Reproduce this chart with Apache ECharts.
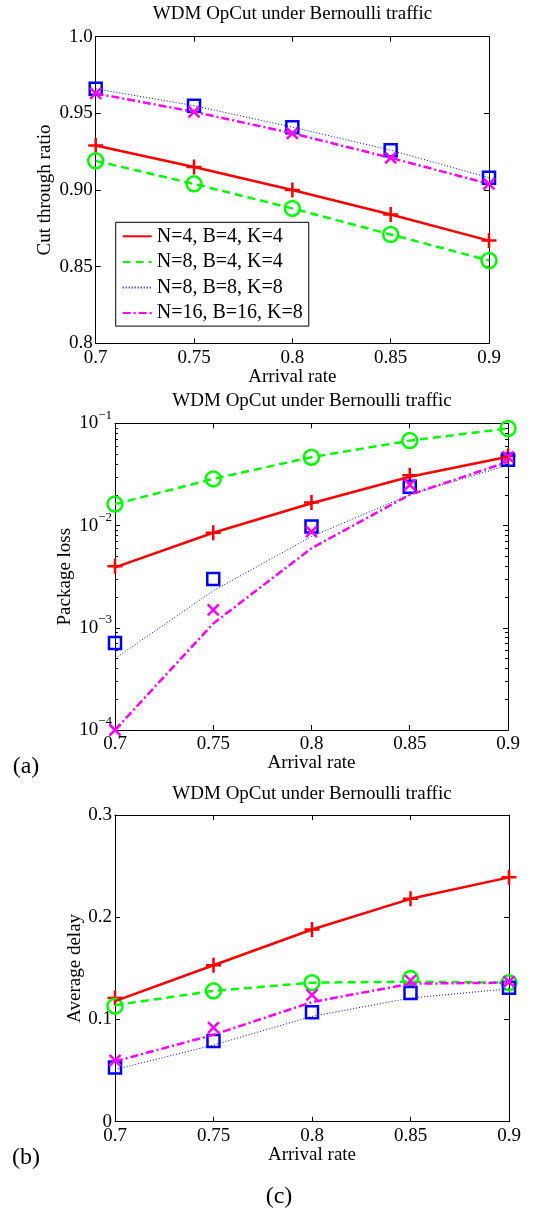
<!DOCTYPE html>
<html><head><meta charset="utf-8">
<script src="https://cdn.jsdelivr.net/npm/echarts@6/dist/echarts.min.js"></script>
<style>html,body{margin:0;padding:0;background:#fff}#c{width:550px;height:1214px}</style>
</head><body><div id="c"></div>
<script>
// ---------- data ----------
const arrivalRates = [0.7, 0.75, 0.8, 0.85, 0.9];
const xTickLabels = ['0.7', '0.75', '0.8', '0.85', '0.9'];
const seriesNames = ['N=4, B=4, K=4', 'N=8, B=4, K=4', 'N=8, B=8, K=8', 'N=16, B=16, K=8'];

// top panel: cut through ratio
const cutTicks = [0.8, 0.85, 0.9, 0.95, 1.0];
const cutTickLabels = ['0.8', '0.85', '0.90', '0.95', '1.0'];
const cutN4B4K4 = [0.929, 0.915, 0.900, 0.884, 0.867];
const cutN8B4K4 = [0.919, 0.904, 0.888, 0.871, 0.854];
const cutN8B8K8 = [0.966, 0.955, 0.941, 0.926, 0.908];
const cutN16B16K8 = [0.963, 0.951, 0.937, 0.921, 0.904];

// panel (a): package loss (markers = simulation, lines = analysis)
const lossTicks = [1e-4, 1e-3, 1e-2, 1e-1];
const lossTickExps = ['\u22124', '\u22123', '\u22122', '\u22121'];
const lossSimN4B4K4 = [0.0040, 0.0085, 0.0168, 0.031, 0.048];
const lossSimN8B4K4 = [0.0162, 0.0286, 0.0466, 0.0677, 0.089];
const lossSimN8B8K8 = [0.00071, 0.0030, 0.0098, 0.024, 0.044];
const lossSimN16B16K8 = [0.0001, 0.0015, 0.0087, 0.025, 0.047];
const lossAnaN4B4K4 = [0.0039, 0.0085, 0.0165, 0.030, 0.047];
const lossAnaN8B4K4 = [0.0162, 0.0286, 0.0466, 0.0677, 0.089];
const lossAnaN8B8K8 = [0.00050, 0.0023, 0.0078, 0.020, 0.039];
const lossAnaN16B16K8 = [0.0001, 0.0011, 0.0060, 0.020, 0.042];

// panel (b): average delay
const delayTicks = [0, 0.1, 0.2, 0.3];
const delayTickLabels = ['0', '0.1', '0.2', '0.3'];
const delaySimN4B4K4 = [0.121, 0.153, 0.188, 0.218, 0.239];
const delaySimN8B4K4 = [0.113, 0.128, 0.136, 0.140, 0.136];
const delaySimN8B8K8 = [0.053, 0.079, 0.107, 0.126, 0.131];
const delaySimN16B16K8 = [0.060, 0.092, 0.124, 0.138, 0.137];
const delayAnaN4B4K4 = [0.118, 0.153, 0.188, 0.218, 0.239];
const delayAnaN8B4K4 = [0.114, 0.128, 0.136, 0.137, 0.136];
const delayAnaN8B8K8 = [0.051, 0.075, 0.103, 0.121, 0.130];
const delayAnaN16B16K8 = [0.059, 0.085, 0.117, 0.135, 0.136];

// ---------- styles ----------
const FONT = 'Liberation Serif';
const BLACK = '#000';
const FS = 19;
const styles = [
  {color: '#ff0000', width: 2.5, type: 'solid', symbol: 'path://M0,5L10,5M5,0L5,10', size: 15},
  {color: '#00ff00', width: 2.5, type: [8, 5], symbol: 'circle', size: 15},
  {color: '#0000ff', width: 1, type: [1, 2], symbol: 'rect', size: 12},
  {color: '#ff00ff', width: 2.5, type: [8, 3, 2, 3], symbol: 'path://M0,0L10,10M0,10L10,0', size: 11}
];

const grids = [
  {left: 95.7, top: 36.7, width: 393.3, height: 306.6, outerBoundsMode: 'none'},
  {left: 115, top: 423.3, width: 393, height: 306.7, outerBoundsMode: 'none'},
  {left: 115, top: 815, width: 394, height: 306.7, outerBoundsMode: 'none'}
];

function lookup(ticks, labels) {
  return function (v) {
    for (let i = 0; i < ticks.length; i++) if (Math.abs(v - ticks[i]) < 1e-9) return labels[i];
    return '';
  };
}
const txt = {fontFamily: FONT, fontSize: FS, color: BLACK};

function xBottom(gi) {
  return {
    gridIndex: gi, type: 'value', position: 'bottom', min: 0.7, max: 0.9, interval: 0.05,
    axisLine: {onZero: false, lineStyle: {color: BLACK, width: 1}},
    axisTick: {inside: true, length: 5, lineStyle: {color: BLACK}},
    axisLabel: Object.assign({margin: 5, showMinLabel: true, showMaxLabel: true,
      formatter: lookup(arrivalRates, xTickLabels)}, txt),
    splitLine: {show: false},
    name: 'Arrival rate', nameLocation: 'middle', nameGap: 24, nameTextStyle: txt,
    nameMoveOverlap: false
  };
}
function xTop(gi) {
  return {
    gridIndex: gi, type: 'value', position: 'top', min: 0.7, max: 0.9, interval: 0.05,
    axisLine: {onZero: false, lineStyle: {color: BLACK, width: 1}},
    axisTick: {inside: true, length: 5, lineStyle: {color: BLACK}},
    axisLabel: {show: false}, splitLine: {show: false}
  };
}
function yLinear(gi, pos, min, max, interval, ticks, labels, name, nameGap) {
  const a = {
    gridIndex: gi, type: 'value', position: pos, min: min, max: max, interval: interval,
    axisLine: {onZero: false, lineStyle: {color: BLACK, width: 1}},
    axisTick: {inside: true, length: 5, lineStyle: {color: BLACK}},
    splitLine: {show: false}
  };
  if (pos === 'left') {
    a.axisLabel = Object.assign({margin: 3, showMinLabel: true, showMaxLabel: true,
      formatter: lookup(ticks, labels)}, txt);
    a.name = name; a.nameLocation = 'middle'; a.nameGap = nameGap; a.nameTextStyle = txt;
    a.nameMoveOverlap = false;
  } else {
    a.axisLabel = {show: false};
  }
  return a;
}
const lossMinorTicks = [];
for (let e = -4; e <= -2; e++) for (let k = 2; k <= 9; k++) lossMinorTicks.push(k * Math.pow(10, e));

function yLog(gi, pos, minor) {
  const a = {
    gridIndex: gi, type: 'log', logBase: 10, position: pos, min: 1e-4, max: 1e-1,
    axisLine: {show: !minor, onZero: false, lineStyle: {color: BLACK, width: 1}},
    axisTick: {inside: true, length: minor ? 3 : 5, lineStyle: {color: BLACK},
      customValues: minor ? lossMinorTicks : lossTicks},
    splitLine: {show: false}
  };
  if (pos === 'left' && !minor) {
    a.axisLabel = {
      margin: 3, customValues: lossTicks,
      formatter: function (v) {
        const i = lossTicks.findIndex(t => Math.abs(Math.log10(t) - Math.log10(v)) < 1e-6);
        return '{b|10}{s|' + lossTickExps[i] + '}';
      },
      rich: {
        b: {fontFamily: FONT, fontSize: FS, color: BLACK},
        s: {fontFamily: FONT, fontSize: 13, color: BLACK, padding: [0, 0, 16, 0]}
      }
    };
    a.name = 'Package loss'; a.nameLocation = 'middle'; a.nameGap = 40.5; a.nameTextStyle = txt;
    a.nameMoveOverlap = false;
  } else {
    a.axisLabel = {show: false};
  }
  return a;
}

const xAxis = [xBottom(0), xBottom(1), xBottom(2), xTop(0), xTop(1), xTop(2)];
const yAxis = [
  yLinear(0, 'left', 0.8, 1.0, 0.05, cutTicks, cutTickLabels, 'Cut through ratio', 41),
  yLog(1, 'left', false),
  yLinear(2, 'left', 0, 0.3, 0.1, delayTicks, delayTickLabels, 'Average delay', 30.5),
  yLinear(0, 'right', 0.8, 1.0, 0.05),
  yLog(1, 'right', false),
  yLinear(2, 'right', 0, 0.3, 0.1),
  yLog(1, 'left', true),
  yLog(1, 'right', true)
];

const series = [];
function addPanel(gi, lineArrs, markArrs) {
  for (let s = 0; s < 4; s++) {
    const st = styles[s];
    series.push({
      type: 'line', name: seriesNames[s], xAxisIndex: gi, yAxisIndex: gi,
      data: arrivalRates.map((x, j) => [x, lineArrs[s][j]]),
      symbol: 'none', clip: false, silent: true,
      lineStyle: {color: st.color, width: st.width, type: st.type},
      itemStyle: {color: st.color}
    });
    series.push({
      type: 'scatter', name: seriesNames[s] + ' (markers)', xAxisIndex: gi, yAxisIndex: gi,
      data: arrivalRates.map((x, j) => [x, markArrs[s][j]]),
      symbol: st.symbol, symbolSize: st.size, clip: false, silent: true,
      itemStyle: {color: 'rgba(0,0,0,0)', borderColor: st.color, borderWidth: 2.5, opacity: 1}
    });
  }
}
const cutArrs = [cutN4B4K4, cutN8B4K4, cutN8B8K8, cutN16B16K8];
addPanel(0, cutArrs, cutArrs);
addPanel(1, [lossAnaN4B4K4, lossAnaN8B4K4, lossAnaN8B8K8, lossAnaN16B16K8],
            [lossSimN4B4K4, lossSimN8B4K4, lossSimN8B8K8, lossSimN16B16K8]);
addPanel(2, [delayAnaN4B4K4, delayAnaN8B4K4, delayAnaN8B8K8, delayAnaN16B16K8],
            [delaySimN4B4K4, delaySimN8B4K4, delaySimN8B8K8, delaySimN16B16K8]);

const titleText = 'WDM OpCut under Bernoulli traffic';
const titleStyle = {fontFamily: FONT, fontSize: FS, fontWeight: 'normal', color: BLACK};
const labelFont = '24px "Liberation Serif"';
const option = {
  animation: false,
  backgroundColor: '#fff',
  title: [
    {text: titleText, left: 292.5, top: 5, textAlign: 'center', padding: 0, textStyle: titleStyle},
    {text: titleText, left: 312, top: 392, textAlign: 'center', padding: 0, textStyle: titleStyle},
    {text: titleText, left: 312, top: 785, textAlign: 'center', padding: 0, textStyle: titleStyle}
  ],
  grid: grids,
  xAxis: xAxis,
  yAxis: yAxis,
  legend: {
    orient: 'vertical', left: 115.7, top: 222.3, padding: [4, 6, 3, 6],
    itemWidth: 29, itemHeight: 20, itemGap: 5.6,
    borderColor: BLACK, borderWidth: 1, borderRadius: 0, backgroundColor: '#fff',
    selectedMode: false,
    itemStyle: {opacity: 0},
    textStyle: {fontFamily: FONT, fontSize: 20, color: BLACK, lineHeight: 20},
    data: seriesNames
  },
  graphic: [
    {type: 'text', x: 26, y: 767, style: {text: '(a)', fill: BLACK, font: labelFont, align: 'center', verticalAlign: 'middle'}},
    {type: 'text', x: 26, y: 1158, style: {text: '(b)', fill: BLACK, font: labelFont, align: 'center', verticalAlign: 'middle'}},
    {type: 'text', x: 279, y: 1197, style: {text: '(c)', fill: BLACK, font: labelFont, align: 'center', verticalAlign: 'middle'}}
  ],
  series: series
};
const chart = echarts.init(document.getElementById('c'), null, {renderer: 'canvas'});
chart.setOption(option);
</script>
</body></html>
